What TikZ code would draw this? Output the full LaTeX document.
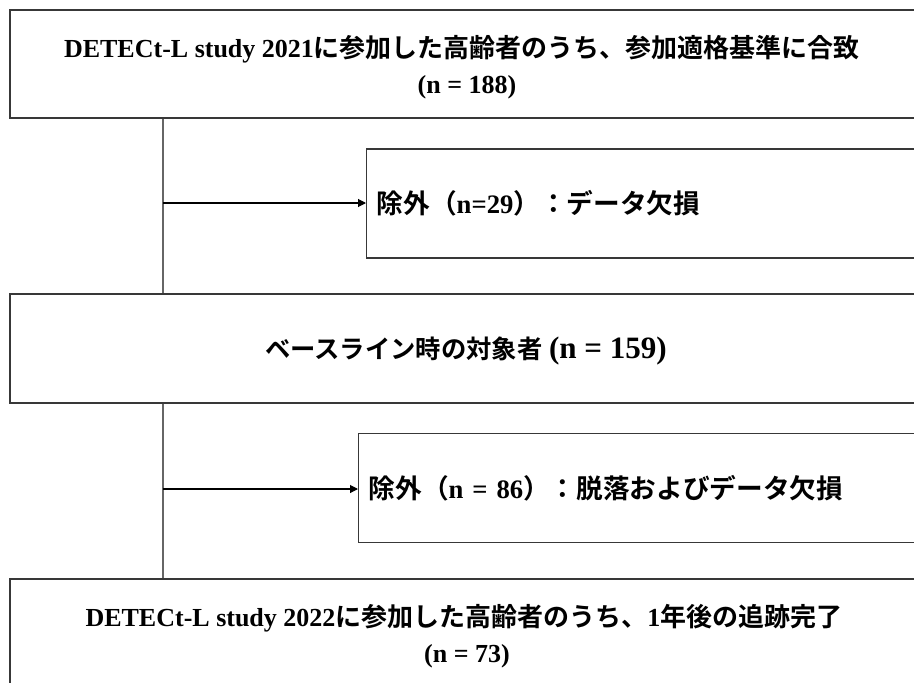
\documentclass[tikz,border=0pt]{standalone}
\usepackage{fontspec}
\setmainfont{Liberation Serif}
\newfontfamily\jpfont{Noto Sans CJK JP}[UprightFont=* Bold, BoldFont=* Bold]
\newcommand\jtxt[1]{{\jpfont #1}}
\usetikzlibrary{arrows.meta}
\tikzset{
  box/.style={draw=black!78, line width=1.1pt, fill=white, inner sep=0pt},
  boxtext/.style={inner sep=0pt, anchor=base, font=\bfseries\fontsize{19.5pt}{27pt}\selectfont},
  leftbox/.style={box, align=left, inner xsep=7.5pt, font=\bfseries\fontsize{20pt}{27pt}\selectfont},
  flowline/.style={draw=black!60, line width=0.8pt},
  exitarrow/.style={draw=black, line width=0.8pt, -{Triangle[length=6pt,width=6pt]}}
}
\begin{document}
\begin{tikzpicture}[x=0.75pt,y=-0.75pt]
\useasboundingbox (0,0) rectangle (914,682);
\clip (0,0) rectangle (914,682);
\fill[white] (0,0) rectangle (914,682);
% main boxes
\node[box, minimum width=684pt, minimum height=81pt] (b1) at (466,64) {};
\node[box, minimum width=684pt, minimum height=81.75pt] (b3) at (466,348.5) {};
\node[box, minimum width=684pt, minimum height=81pt] (b5) at (466,633) {};
% texts of main boxes
\node[boxtext] (t1a) at (462,57) {DETECt-L study 2021\jtxt{に参加した高齢者のうち、参加適格基準に合致}};
\node[boxtext] (t1b) at (467,93) {(n = 188)};
\node[boxtext] (t3) at (466,358) {{\fontsize{19pt}{27pt}\selectfont\jtxt{ベースライン時の対象者}} {\fontsize{23.3pt}{27pt}\selectfont(n = 159)}};
\node[boxtext] (t5a) at (464,626) {DETECt-L study 2022\jtxt{に参加した高齢者のうち、}1\jtxt{年後の追跡完了}};
\node[boxtext] (t5b) at (467,662) {(n = 73)};
% exclusion boxes
\node[leftbox, anchor=west, text width=402pt, minimum height=81.75pt] (b2) at (366,203.5)
  {\jtxt{除外（}n=29\jtxt{）：データ欠損}};
\node[leftbox, anchor=west, text width=408pt, minimum height=81.75pt] (b4) at (358,488)
  {\jtxt{除外（}n = 86\jtxt{）：脱落およびデータ欠損}};
% junctions
\coordinate (j1) at (163,203);
\coordinate (j2) at (163,489);
% connectors
\draw[flowline] (b1.south -| j1) -- (b3.north -| j1);
\draw[flowline] (b3.south -| j2) -- (b5.north -| j2);
\draw[exitarrow] (j1) -- (j1 -| b2.west);
\draw[exitarrow] (j2) -- (j2 -| b4.west);
\end{tikzpicture}
\end{document}
